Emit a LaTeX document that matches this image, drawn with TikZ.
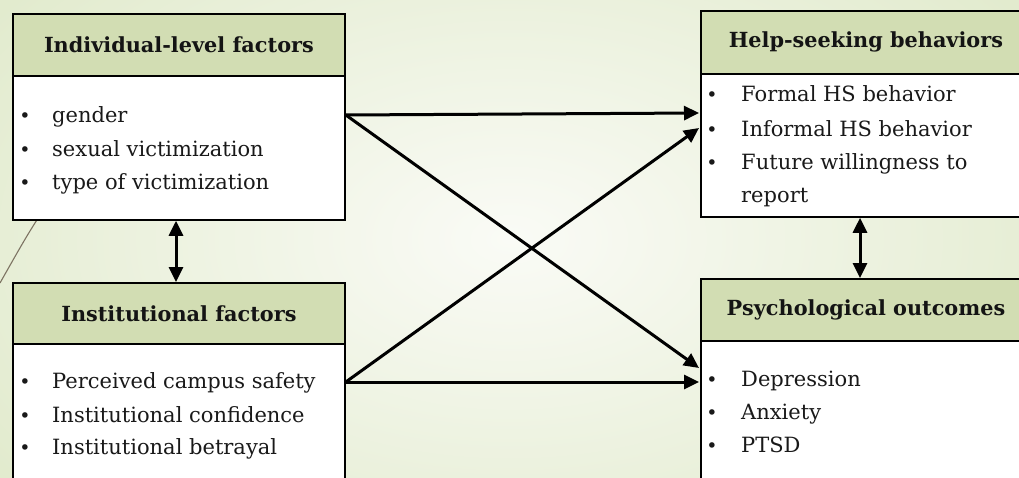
\documentclass[tikz,border=0pt]{standalone}
\usepackage{fontspec}
\setmainfont{DejaVu Serif}
\usetikzlibrary{arrows.meta}
\definecolor{hdr}{HTML}{D2DDB3}
\definecolor{bgg}{HTML}{E2EBCE}
\definecolor{bgin}{HTML}{FAFBF6}
\definecolor{deco}{HTML}{7D7362}
\begin{document}
\begin{tikzpicture}[x=1pt,y=-1pt,
  boxbase/.style={draw=black, line width=1.8pt, rectangle, inner sep=0pt, anchor=north west},
  hdrbox/.style={boxbase, fill=hdr, font=\fontsize{20.8}{24}\selectfont\bfseries, text=black!92},
  bodybox/.style={boxbase, fill=white},
  itm/.style={anchor=base west, inner sep=0pt, font=\fontsize{21}{24}\selectfont, text=black!90},
  bul/.style={anchor=base, inner sep=0pt, font=\fontsize{19}{20}\selectfont, text=black!90},
  tip/.tip={Triangle[length=15pt,width=14pt]},
  arr/.style={line width=3pt, -tip},
  darr/.style={line width=3pt, tip-tip}
]
\useasboundingbox (0,0) rectangle (1019,478);
\shade[inner color=bgin, outer color=bgg] (-120,-150) rectangle (1139,628);
\draw[deco, line width=1.1pt] (60,185) .. controls (30,230) .. (0,283);

% left top box
\node[hdrbox, minimum width=332pt, minimum height=62pt] (indh) at (12,13) {Individual-level factors};
\node[bodybox, minimum width=332pt, minimum height=144pt] (indb) at (12,75) {};
% left bottom box
\node[hdrbox, minimum width=332pt, minimum height=61pt] (insh) at (12,282) {Institutional factors};
\node[bodybox, minimum width=332pt, minimum height=160pt] (insb) at (12,343) {};
% right top box
\node[hdrbox, minimum width=330pt, minimum height=63pt] (hsh) at (700,10) {Help-seeking behaviors};
\node[bodybox, minimum width=330pt, minimum height=143pt] (hsb) at (700,73) {};
% right bottom box
\node[hdrbox, minimum width=330pt, minimum height=62pt] (psh) at (700,278) {Psychological outcomes};
\node[bodybox, minimum width=330pt, minimum height=160pt] (psb) at (700,340) {};

% items
\node[bul] (b1) at (25,123) {•}; \node[itm] (t1) at (52,123) {gender};
\node[bul] (b2) at (25,157) {•}; \node[itm] (t2) at (52,157) {sexual victimization};
\node[bul] (b3) at (25,190) {•}; \node[itm] (t3) at (52,190) {type of victimization};

\node[bul] (b4) at (25,388) {•}; \node[itm] (t4) at (52,388) {Perceived campus safety};
\node[bul] (b5) at (25,422) {•}; \node[itm] (t5) at (52,422) {Institutional confidence};
\node[bul] (b6) at (25,454) {•}; \node[itm] (t6) at (52,454) {Institutional betrayal};

\node[bul] (b7) at (712,102) {•}; \node[itm] (t7) at (741,102) {Formal HS behavior};
\node[bul] (b8) at (712,137) {•}; \node[itm] (t8) at (741,137) {Informal HS behavior};
\node[bul] (b9) at (712,170) {•}; \node[itm] (t9) at (741,170) {Future willingness to};
\node[itm] (t10) at (741,203) {report};

\node[bul] (b11) at (712,386) {•}; \node[itm] (t11) at (741,386) {Depression};
\node[bul] (b12) at (712,419) {•}; \node[itm] (t12) at (741,419) {Anxiety};
\node[bul] (b13) at (712,452) {•}; \node[itm] (t13) at (741,452) {PTSD};

% connector anchors on the box edges
\coordinate (s1) at (indb.east |- 0,115);
\coordinate (s2) at (insb.east |- 0,382);
\coordinate (e1) at ([xshift=-1pt]hsb.west |- 0,113);
\coordinate (e2) at ([xshift=-1pt]hsb.west |- 0,128);
\coordinate (e3) at ([xshift=-1pt]psb.west |- 0,368);
\coordinate (e4) at ([xshift=-1pt]psb.west |- 0,382);

\draw[arr] (s1) -- (e1);
\draw[arr] (s1) -- (e3);
\draw[arr] (s2) -- (e2);
\draw[arr] (s2) -- (e4);

\coordinate (v1) at (indb.south -| 176,0); \coordinate (v2) at (insh.north -| 176,0);
\coordinate (v3) at (hsb.south -| 860,0); \coordinate (v4) at (psh.north -| 860,0);
\draw[darr] (v1) -- (v2);
\draw[darr] (v3) -- (v4);
\end{tikzpicture}
\end{document}
